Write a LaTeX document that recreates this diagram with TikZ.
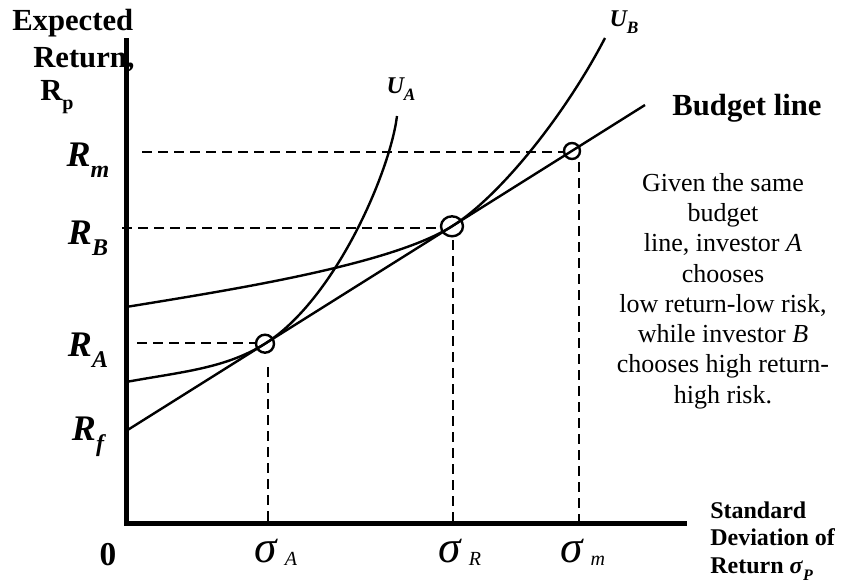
\documentclass[tikz,border=0pt]{standalone}
\usepackage{fontspec}
\setmainfont{Liberation Serif}
\newcommand\mysub[2][17]{\raisebox{-0.3em}{\fontsize{#1}{#1}\selectfont #2}}
\newcommand\sigsub[1]{\raisebox{-0.08em}{\fontsize{15}{15}\selectfont #1}}
\begin{document}
\begin{tikzpicture}[x=0.75pt,y=-0.75pt,
  axisline/.style={line width=3.75pt, line join=miter},
  curveline/.style={line width=1.8pt},
  guide/.style={line width=1.5pt, dash pattern=on 7.5pt off 4.5pt},
  ring/.style={line width=1.8pt},
  rlabel/.style={font=\fontsize{27}{30}\selectfont\bfseries\itshape, inner sep=0pt},
  axlabel/.style={font=\fontsize{23}{27}\selectfont\bfseries, inner sep=0pt, anchor=west},
  xlab/.style={font=\fontsize{18}{21}\selectfont\bfseries, inner sep=0pt, anchor=base west},
  siglabel/.style={font=\fontsize{34}{36}\selectfont\itshape, inner sep=0pt, anchor=base},
  ulabel/.style={font=\fontsize{18}{20}\selectfont\bfseries\itshape, inner sep=0pt},
  note/.style={font=\fontsize{19.5}{22.7}\selectfont, align=center, inner sep=0pt}
]
\useasboundingbox (0,0) rectangle (850,586);

% key points
\coordinate (o) at (126,523);
\coordinate (ytop) at (126,38);
\coordinate (xend) at (687,523);
\coordinate (rf) at (126,431);
\coordinate (bend) at (645,105);
\coordinate (A) at (265,343.7);
\coordinate (B) at (452,226.3);
\coordinate (M) at (572,151);

% axes
\draw[axisline] (ytop) -- (o) -- (xend);

% budget line
\draw[curveline] (rf) -- (bend);

% U_A
\draw[curveline] (126,382) .. controls (180,372) and (225,368.8) .. (A)
  .. controls (335,299.7) and (390,172) .. (397,116);

% U_B
\draw[curveline] (126,307) .. controls (230,290) and (390,265.2) .. (B)
  .. controls (500,196.2) and (565,115) .. (605,38);

% dashed guides
\draw[guide] (142,152) -- (563,152);
\draw[guide] (122,228) -- (440,228);
\draw[guide] (137,343) -- (256,343);
\draw[guide] (268,367) -- (268,521);
\draw[guide] (453,240) -- (453,521);
\draw[guide] (579,162) -- (579,521);

% circles
\draw[ring] (A) circle[radius=6.75pt];
\draw[ring] (B) ellipse[x radius=8.25pt, y radius=7.5pt];
\draw[ring] (M) circle[radius=6pt];

% y labels
\node[rlabel] (lrm) at (88,160) {R\mysub[18]{m}};
\node[rlabel] (lrb) at (88,238) {R\mysub[18]{B}};
\node[rlabel] (lra) at (88,350) {R\mysub[18]{A}};
\node[rlabel] (lrf) at (88,437) {R\mysub[18]{f}};

% y axis title
\node[axlabel] (t1) at (12,23) {Expected};
\node[axlabel] (t2) at (33,60) {Return,};
\node[axlabel] (t3) at (40,97) {R\mysub[15]{p}};

% x labels
\node[font=\fontsize{25}{28}\selectfont\bfseries, inner sep=0pt] (zero) at (108,555) {0};
\node[siglabel] (sa) at (276,562) {σ\,\sigsub{A}};
\node[siglabel] (sb) at (460,562) {σ\,\sigsub{R}};
\node[siglabel] (sm) at (583,562) {σ\,\sigsub{m}};

% x axis title
\node[xlab] (x1) at (710,518) {Standard};
\node[xlab] (x2) at (710,545) {Deviation of};
\node[xlab] (x3) at (710,573) {Return \textit{σ}\mysub[12]{\textit{P}}};

% curve labels
\node[ulabel] (ua) at (401,89) {U\mysub[13]{A}};
\node[ulabel] (ub) at (624,22) {U\mysub[13]{B}};
\node[font=\fontsize{23}{27}\selectfont\bfseries, inner sep=0pt] (bl) at (747,108) {Budget line};

% note
\node[note] (nt) at (723,291) {Given the same\\budget\\line, investor \textit{A}\\chooses\\low return-low risk,\\while investor \textit{B}\\chooses high return-\\high risk.};
\end{tikzpicture}
\end{document}
